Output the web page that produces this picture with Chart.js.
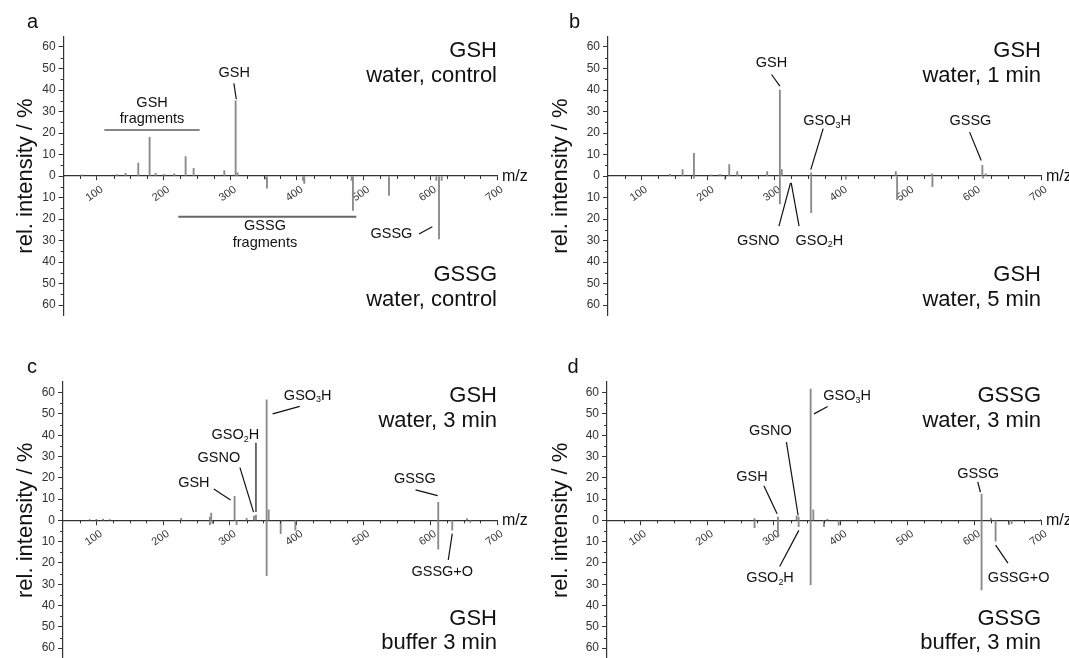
<!DOCTYPE html>
<html>
<head>
<meta charset="utf-8">
<script src="https://cdn.jsdelivr.net/npm/chart.js@4.4.1/dist/chart.umd.min.js"></script>
<style>
  body { margin: 0; background: #fff; width: 1069px; height: 658px; position: relative; overflow: hidden; }
  .panel { position: absolute; }
</style>
</head>
<body>
<div class="panel" style="left:0;top:0;width:535px;height:329px"><canvas id="ca"></canvas></div>
<div class="panel" style="left:535px;top:0;width:534px;height:329px"><canvas id="cb"></canvas></div>
<div class="panel" style="left:0;top:329px;width:535px;height:340px"><canvas id="cc"></canvas></div>
<div class="panel" style="left:535px;top:329px;width:534px;height:340px"><canvas id="cd"></canvas></div>
<script>
// peak lists (m/z and relative intensity in %)
const aTopMz = [77, 130, 143, 162, 179, 188, 201, 216, 233, 245, 291, 308, 311];
const aTopInt = [0.5, 0.7, 1.3, 6, 18, 1.2, 0.8, 1, 9, 3.6, 2.5, 35, 1.5];
const aBotMz = [352, 355, 409, 411, 482, 484, 538, 609, 613, 617];
const aBotInt = [1.5, 5.7, 2, 3.5, 2, 16, 9, 2, 29.3, 2];

const bTopMz = [143, 162, 179, 205, 218, 232, 244, 289, 308, 311, 355, 482, 536, 612, 617];
const bTopInt = [0.8, 3, 10.5, 0.5, 0.8, 5.3, 2, 2, 40, 3, 1.5, 2, 1, 5, 1];
const bBotMz = [179, 226, 308, 355, 407, 484, 537, 613];
const bBotInt = [1, 1.5, 13, 17, 1.5, 11, 5, 1];

const cTopMz = [90, 100, 110, 120, 227, 270, 272, 307, 325, 336, 339, 355, 358, 612, 655];
const cTopInt = [0.4, 0.5, 0.6, 0.4, 1, 1.5, 3.4, 11.3, 1, 2, 2.5, 56.6, 5, 8.5, 0.8];
const cBotMz = [270, 274, 310, 355, 376, 398, 612, 633, 660];
const cBotInt = [2, 1.5, 2, 26, 6.2, 4.6, 13.5, 4.6, 1];

const dTopMz = [271, 306, 334, 337, 355, 359, 380, 611, 625, 700];
const dTopInt = [0.8, 1.5, 2, 1.5, 61.6, 5, 0.5, 12.4, 1, 0.5];
const dBotMz = [271, 306, 337, 355, 375, 397, 611, 632, 652, 656];
const dBotInt = [3.4, 7.6, 3, 30.2, 2.9, 2.2, 32.6, 9.8, 2, 1.5];

const xTickLabels = [100, 200, 300, 400, 500, 600, 700];
const yTickLabels = [0, 10, 20, 30, 40, 50, 60];

const FONT = '"Liberation Sans", Arial, sans-serif';

// labels and leader lines, in data coordinates [m/z, %]
const notesA = {
  letter: 'a', letterX: 27, letterY: 28,
  top: ['GSH', 'water, control'], bottom: ['GSSG', 'water, control'],
  texts: [['GSH', 306, 46.2, 'center'], ['GSH', 182.7, 32.2, 'center'], ['fragments', 182.7, 24.5, 'center'],
          ['GSSG', 352, -25, 'center'], ['fragments', 352, -32.9, 'center'], ['GSSG', 541.7, -29, 'center']],
  leaders: [[305.4, 43.1, 309, 35.7], [583, -27, 603, -23.6]],
  rules: [[111, 254, 21.4, '#111', 1.2], [222, 489, -18.9, '#666', 2]]
};
const notesB = {
  letter: 'b', letterX: 34, letterY: 28,
  top: ['GSH', 'water, 1 min'], bottom: ['GSH', 'water, 5 min'],
  texts: [['GSH', 295.3, 50.6, 'center'], ['GSO_3H', 343, 23.5, 'left'], ['GSSG', 594, 23.5, 'center'],
          ['GSNO', 275.6, -31.9, 'center'], ['GSO_2H', 331.5, -31.9, 'left']],
  leaders: [[295.5, 47.2, 308, 41.8], [373, 22, 354.4, 3], [592.8, 20.4, 610.3, 7.2],
            [306.6, -23.3, 324, -3.2], [336.8, -23.3, 325, -3.2]],
  rules: []
};
const notesC = {
  letter: 'c', letterX: 27, letterY: 44.3,
  top: ['GSH', 'water, 3 min'], bottom: ['GSH', 'buffer 3 min'],
  texts: [['GSO_3H', 380.8, 56.6, 'left'], ['GSO_2H', 272.3, 38, 'left'], ['GSNO', 283.4, 27.6, 'center'],
          ['GSH', 246, 15.8, 'center'], ['GSSG', 577, 17.5, 'center'], ['GSSG+O', 618, -25.9, 'center']],
  leaders: [[364, 50, 404.5, 53.5], [339, 36.5, 339, 3.9], [315, 24.8, 335.4, 3.9],
            [275.8, 14.7, 301, 9.6], [578, 14.3, 611, 11.6], [627, -18.6, 633, -6.2]],
  rules: []
};
const notesD = {
  letter: 'd', letterX: 32.5, letterY: 44.3,
  top: ['GSSG', 'water, 3 min'], bottom: ['GSSG', 'buffer, 3 min'],
  texts: [['GSO_3H', 374, 56.3, 'left'], ['GSNO', 294.6, 40, 'center'], ['GSH', 267, 18.6, 'center'],
          ['GSO_2H', 258.4, -29, 'left'], ['GSSG', 605.8, 19.9, 'center'], ['GSSG+O', 620.4, -29, 'left']],
  leaders: [[360, 50, 380.5, 53.5], [318.7, 36.7, 336.3, 2.3], [285, 16.3, 304.7, 3.1],
            [308.6, -21.7, 337.3, -4.7], [605.3, 18.1, 609.3, 13.2], [632, -11.6, 650.5, -20.1]],
  rules: []
};

// text with "_3" style subscripts
function chemText(ctx, text, x, y, align, size) {
  const parts = text.split(/_(\d)/);
  const segs = parts.map((s, i) => ({ s, sub: i % 2 === 1 }));
  const fontFor = sub => (sub ? size * 0.62 : size) + 'px ' + FONT;
  let w = 0;
  segs.forEach(g => { ctx.font = fontFor(g.sub); g.w = ctx.measureText(g.s).width; w += g.w; });
  let cx = align === 'center' ? x - w / 2 : align === 'right' ? x - w : x;
  ctx.textAlign = 'left';
  ctx.textBaseline = 'alphabetic';
  segs.forEach(g => {
    ctx.font = fontFor(g.sub);
    ctx.fillText(g.s, cx, g.sub ? y + size * 0.18 : y);
    cx += g.w;
  });
}

const annotate = {
  id: 'annotate',
  afterDraw(chart, args, n) {
    const { ctx, chartArea } = chart;
    const x = chart.scales.x, y = chart.scales.y;
    ctx.save();
    ctx.fillStyle = '#111';

    // minor ticks
    ctx.strokeStyle = '#333';
    ctx.lineWidth = 1;
    const y0 = y.getPixelForValue(0);
    for (let v = -55; v <= 55; v += 10) {
      const py = Math.round(y.getPixelForValue(v)) + 0.5;
      ctx.beginPath(); ctx.moveTo(chartArea.left - 3, py); ctx.lineTo(chartArea.left, py); ctx.stroke();
    }
    for (let m = 75; m < 700; m += 25) {
      if (m % 100 === 0) continue;
      const px = Math.round(x.getPixelForValue(m)) + 0.5;
      ctx.beginPath(); ctx.moveTo(px, y0); ctx.lineTo(px, y0 + 3); ctx.stroke();
    }

    // horizontal brackets
    n.rules.forEach(([m1, m2, v, col, lw]) => {
      ctx.strokeStyle = col; ctx.lineWidth = lw;
      const py = y.getPixelForValue(v);
      ctx.beginPath(); ctx.moveTo(x.getPixelForValue(m1), py); ctx.lineTo(x.getPixelForValue(m2), py); ctx.stroke();
    });

    // leader lines
    ctx.strokeStyle = '#111';
    ctx.lineWidth = 1.2;
    n.leaders.forEach(([m1, v1, m2, v2]) => {
      ctx.beginPath();
      ctx.moveTo(x.getPixelForValue(m1), y.getPixelForValue(v1));
      ctx.lineTo(x.getPixelForValue(m2), y.getPixelForValue(v2));
      ctx.stroke();
    });

    n.texts.forEach(([t, m, v, al]) => chemText(ctx, t, x.getPixelForValue(m), y.getPixelForValue(v), al, 14.5));

    // sample captions
    ctx.font = '22px ' + FONT;
    ctx.textAlign = 'right';
    ctx.textBaseline = 'alphabetic';
    const r = chartArea.right;
    ctx.fillText(n.top[0], r, y.getPixelForValue(55.5));
    ctx.fillText(n.top[1], r, y.getPixelForValue(43.8));
    ctx.fillText(n.bottom[0], r, y.getPixelForValue(-49));
    ctx.fillText(n.bottom[1], r, y.getPixelForValue(-60.5));

    // axis unit
    ctx.font = '16px ' + FONT;
    ctx.textAlign = 'left';
    ctx.fillText('m/z', r + 5, y0 + 5);

    // panel letter
    ctx.font = '20px ' + FONT;
    ctx.fillText(n.letter, n.letterX, n.letterY);
    ctx.restore();
  }
};

function makePanel(id, topMz, topInt, botMz, botInt, notes, axisWidth, pad) {
  const top = topMz.map((m, i) => ({ x: m, y: topInt[i] }));
  const bot = botMz.map((m, i) => ({ x: m, y: -botInt[i] }));
  new Chart(document.getElementById(id), {
    type: 'bar',
    data: {
      datasets: [
        { data: top, backgroundColor: '#8a8a8a', barThickness: 1.2, grouped: false },
        { data: bot, backgroundColor: '#8a8a8a', barThickness: 1.2, grouped: false }
      ]
    },
    options: {
      responsive: true,
      maintainAspectRatio: false,
      animation: false,
      events: [],
      layout: { padding: pad },
      plugins: { legend: { display: false }, tooltip: { enabled: false }, annotate: notes },
      scales: {
        x: {
          type: 'linear', min: 50, max: 700, offset: false,
          position: { y: 0 },
          afterBuildTicks: s => { s.ticks = xTickLabels.map(v => ({ value: v })); },
          grid: { drawOnChartArea: false, tickLength: 4, color: '#333', offset: false },
          border: { color: '#333', width: 1.2 },
          ticks: { color: '#333', font: { family: FONT, size: 11 }, minRotation: 35, maxRotation: 35,
                   autoSkip: false, padding: 3, labelOffset: 5 }
        },
        y: {
          type: 'linear', min: -65, max: 65,
          afterBuildTicks: s => {
            s.ticks = yTickLabels.slice().reverse().map(v => ({ value: -v }))
              .concat(yTickLabels.slice(1).map(v => ({ value: v })));
          },
          afterFit: s => { s.width = axisWidth; },
          grid: { drawOnChartArea: false, tickLength: 5, color: '#333' },
          border: { color: '#333', width: 1.2 },
          ticks: { color: '#333', font: { family: FONT, size: 12 }, padding: 3,
                   callback: v => Math.abs(v) },
          title: { display: true, text: 'rel. intensity / %', color: '#111',
                   font: { family: FONT, size: 22 }, padding: { top: 12.5, bottom: 0 } }
        }
      }
    },
    plugins: [annotate]
  });
}

makePanel('ca', aTopMz, aTopInt, aBotMz, aBotInt, notesA, 63.6, { top: 36.25, right: 38, bottom: 13.25, left: 0 });
makePanel('cb', bTopMz, bTopInt, bBotMz, bBotInt, notesB, 73, { top: 36.25, right: 28, bottom: 13.25, left: 0 });
makePanel('cc', cTopMz, cTopInt, cBotMz, cBotInt, notesC, 63, { top: 52.95, right: 38, bottom: 7.6, left: 0 });
makePanel('cd', dTopMz, dTopInt, dBotMz, dBotInt, notesD, 72, { top: 52.95, right: 28, bottom: 7.6, left: 0 });
</script>
</body>
</html>
